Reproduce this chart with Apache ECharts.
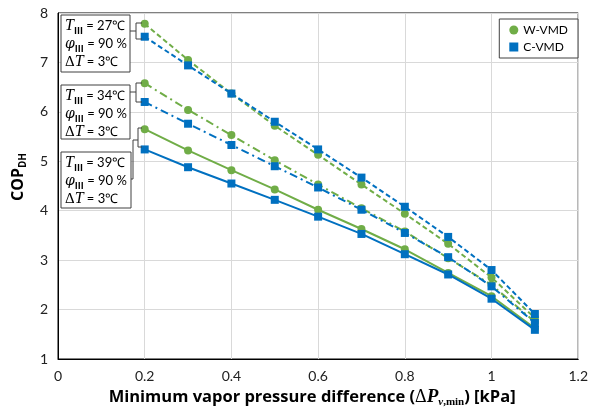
<!DOCTYPE html>
<html>
<head>
<meta charset="utf-8">
<script src="https://cdn.jsdelivr.net/npm/echarts@6/dist/echarts.min.js"></script>
<style>
  html, body { margin: 0; padding: 0; background: #fff; }
  #chart { width: 591px; height: 413px; }
</style>
</head>
<body>
<div id="chart"></div>
<script>
// x values (kPa)
const xVals = [0.2, 0.3, 0.4, 0.5, 0.6, 0.7, 0.8, 0.9, 1.0, 1.1];

// COP_DH
const w27 = [7.78, 7.05, 6.37, 5.72, 5.13, 4.53, 3.94, 3.33, 2.65, 1.83];
const c27 = [7.52, 6.94, 6.37, 5.80, 5.24, 4.67, 4.08, 3.47, 2.80, 1.91];
const w34 = [6.58, 6.04, 5.53, 5.02, 4.53, 4.05, 3.58, 3.04, 2.50, 1.75];
const c34 = [6.20, 5.76, 5.33, 4.90, 4.47, 4.02, 3.55, 3.06, 2.47, 1.73];
const w39 = [5.65, 5.22, 4.82, 4.43, 4.02, 3.63, 3.22, 2.74, 2.27, 1.62];
const c39 = [5.24, 4.88, 4.55, 4.22, 3.88, 3.53, 3.12, 2.71, 2.22, 1.59];

const GREEN = '#70AD47';
const BLUE = '#0070C0';
const FONT = 'Lato, "Liberation Sans", sans-serif';
const BOLD = '"Open Sans", Lato, sans-serif';
const SERIF = '"Liberation Serif", "DejaVu Serif", serif';

function pairs(ys) {
    return xVals.map((x, i) => [x, ys[i]]);
}

function makeSeries(name, ys, color, symbol, dash) {
    return {
        name: name,
        type: 'line',
        data: pairs(ys),
        symbol: symbol,
        symbolSize: 8,
        itemStyle: { color: color },
        lineStyle: { color: color, width: 2, type: dash },
        emphasis: { disabled: true },
        animation: false
    };
}

// annotation box text
function boxText(temp) {
    return '{t|T}{s|Ⅲ}{n| = ' + temp + '℃}\n{p|φ}{s|Ⅲ}{n| = 90 %}\n{m|Δ}{t|T}{n| = 3℃}';
}

const boxRich = {
    t: { fontFamily: SERIF, fontStyle: 'italic', fontSize: 16, lineHeight: 18, color: '#000' },
    p: { fontFamily: '"DejaVu Serif", serif', fontStyle: 'italic', fontSize: 14, lineHeight: 18, color: '#000' },
    m: { fontFamily: SERIF, fontSize: 15, lineHeight: 18, color: '#000' },
    s: { fontFamily: '"Noto Sans CJK SC", serif', fontWeight: 'bold', fontSize: 9, lineHeight: 18, verticalAlign: 'bottom', color: '#000', padding: [6, 0, 0, 0] },
    n: { fontFamily: FONT, fontSize: 13, lineHeight: 18, color: '#000' }
};

function annBox(x, y, w, h, temp) {
    return {
        type: 'group',
        z: 100,
        children: [
            { type: 'rect', z: 100, shape: { x: x, y: y, width: w, height: h }, style: { fill: '#fff', stroke: '#404040', lineWidth: 1 } },
            { type: 'text', z: 101, x: x + 4, y: y + 2, style: { text: boxText(temp), rich: boxRich } }
        ]
    };
}

function line(points) {
    return { type: 'polyline', z: 100, shape: { points: points }, style: { stroke: '#404040', lineWidth: 1, fill: null } };
}

const chart = echarts.init(document.getElementById('chart'));

const option = {
    animation: false,
    grid: { left: 58, right: 10, top: 13, bottom: 54, show: true, borderColor: '#000', borderWidth: 1 },
    legend: {
        data: [
            { name: 'W-VMD', icon: 'circle' },
            { name: 'C-VMD', icon: 'rect' }
        ],
        orient: 'vertical',
        right: 13,
        top: 19,
        itemWidth: 9,
        itemHeight: 9,
        itemGap: 5,
        padding: [5, 10, 5, 10],
        borderColor: '#404040',
        borderWidth: 1,
        backgroundColor: '#fff',
        textStyle: { fontFamily: FONT, fontSize: 12, color: '#000' }
    },
    xAxis: {
        type: 'value',
        min: 0,
        max: 1.2,
        interval: 0.2,
        name: '{b|Minimum vapor pressure difference (}{m|Δ}{i|P}{sv|v}{sm|,min}{b|) [kPa]}',
        nameLocation: 'middle',
        nameGap: 27,
        nameTextStyle: {
            padding: [0, 12, 0, 0],
            rich: {
                b: { fontFamily: BOLD, fontWeight: 'bold', fontSize: 16.5, color: '#000' },
                m: { fontFamily: SERIF, fontSize: 18, color: '#000' },
                i: { fontFamily: SERIF, fontStyle: 'italic', fontWeight: 'bold', fontSize: 19, color: '#000' },
                sv: { fontFamily: SERIF, fontStyle: 'italic', fontWeight: 'bold', fontSize: 11, color: '#000', verticalAlign: 'bottom', padding: [9, 0, 0, 0] },
                sm: { fontFamily: SERIF, fontWeight: 'bold', fontSize: 11, color: '#000', verticalAlign: 'bottom', padding: [9, 0, 0, 0] }
            }
        },
        axisLine: { lineStyle: { color: '#000', width: 1 } },
        axisTick: { show: false },
        axisLabel: { fontFamily: FONT, fontSize: 14, color: '#222', margin: 10, formatter: v => String(+v.toFixed(1)) },
        splitLine: { show: true, lineStyle: { color: '#d9d9d9', width: 1 } }
    },
    yAxis: {
        type: 'value',
        min: 1,
        max: 8,
        interval: 1,
        name: '{b|COP}{s|DH}',
        nameLocation: 'middle',
        nameGap: 30,
        nameTextStyle: {
            padding: [0, 0, 0, 18],
            rich: {
                b: { fontFamily: BOLD, fontWeight: 'bold', fontSize: 16, color: '#000' },
                s: { fontFamily: BOLD, fontWeight: 'bold', fontSize: 10, color: '#000', verticalAlign: 'bottom', padding: [9, 0, 0, 0] }
            }
        },
        axisLine: { show: true, lineStyle: { color: '#000', width: 1 } },
        axisTick: { show: false },
        axisLabel: { fontFamily: FONT, fontSize: 14, color: '#222', margin: 10 },
        splitLine: { show: true, lineStyle: { color: '#d9d9d9', width: 1 } }
    },
    series: [
        makeSeries('W-VMD', w27, GREEN, 'circle', [5, 3]),
        makeSeries('W-VMD', w34, GREEN, 'circle', [8, 4, 2, 4]),
        makeSeries('W-VMD', w39, GREEN, 'circle', 'solid'),
        makeSeries('C-VMD', c27, BLUE, 'rect', [5, 3]),
        makeSeries('C-VMD', c34, BLUE, 'rect', [8, 4, 2, 4]),
        makeSeries('C-VMD', c39, BLUE, 'rect', 'solid')
    ],
    graphic: [
        annBox(61, 15, 69, 57, 27),
        annBox(61, 85, 69, 54, 34),
        annBox(61, 152, 70, 56, 39),
        // brackets
        line([[130, 31], [136, 31]]),
        line([[142, 23], [136, 23], [136, 39], [142, 39]]),
        line([[130, 92], [136, 92]]),
        line([[142, 83], [136, 83], [136, 102], [142, 102]]),
        line([[142, 128], [138, 128], [138, 147], [142, 147]]),
        line([[138, 140], [133, 140], [133, 179], [131, 179]])
    ]
};

chart.setOption(option);
window.addEventListener('resize', () => chart.resize());
</script>
</body>
</html>
